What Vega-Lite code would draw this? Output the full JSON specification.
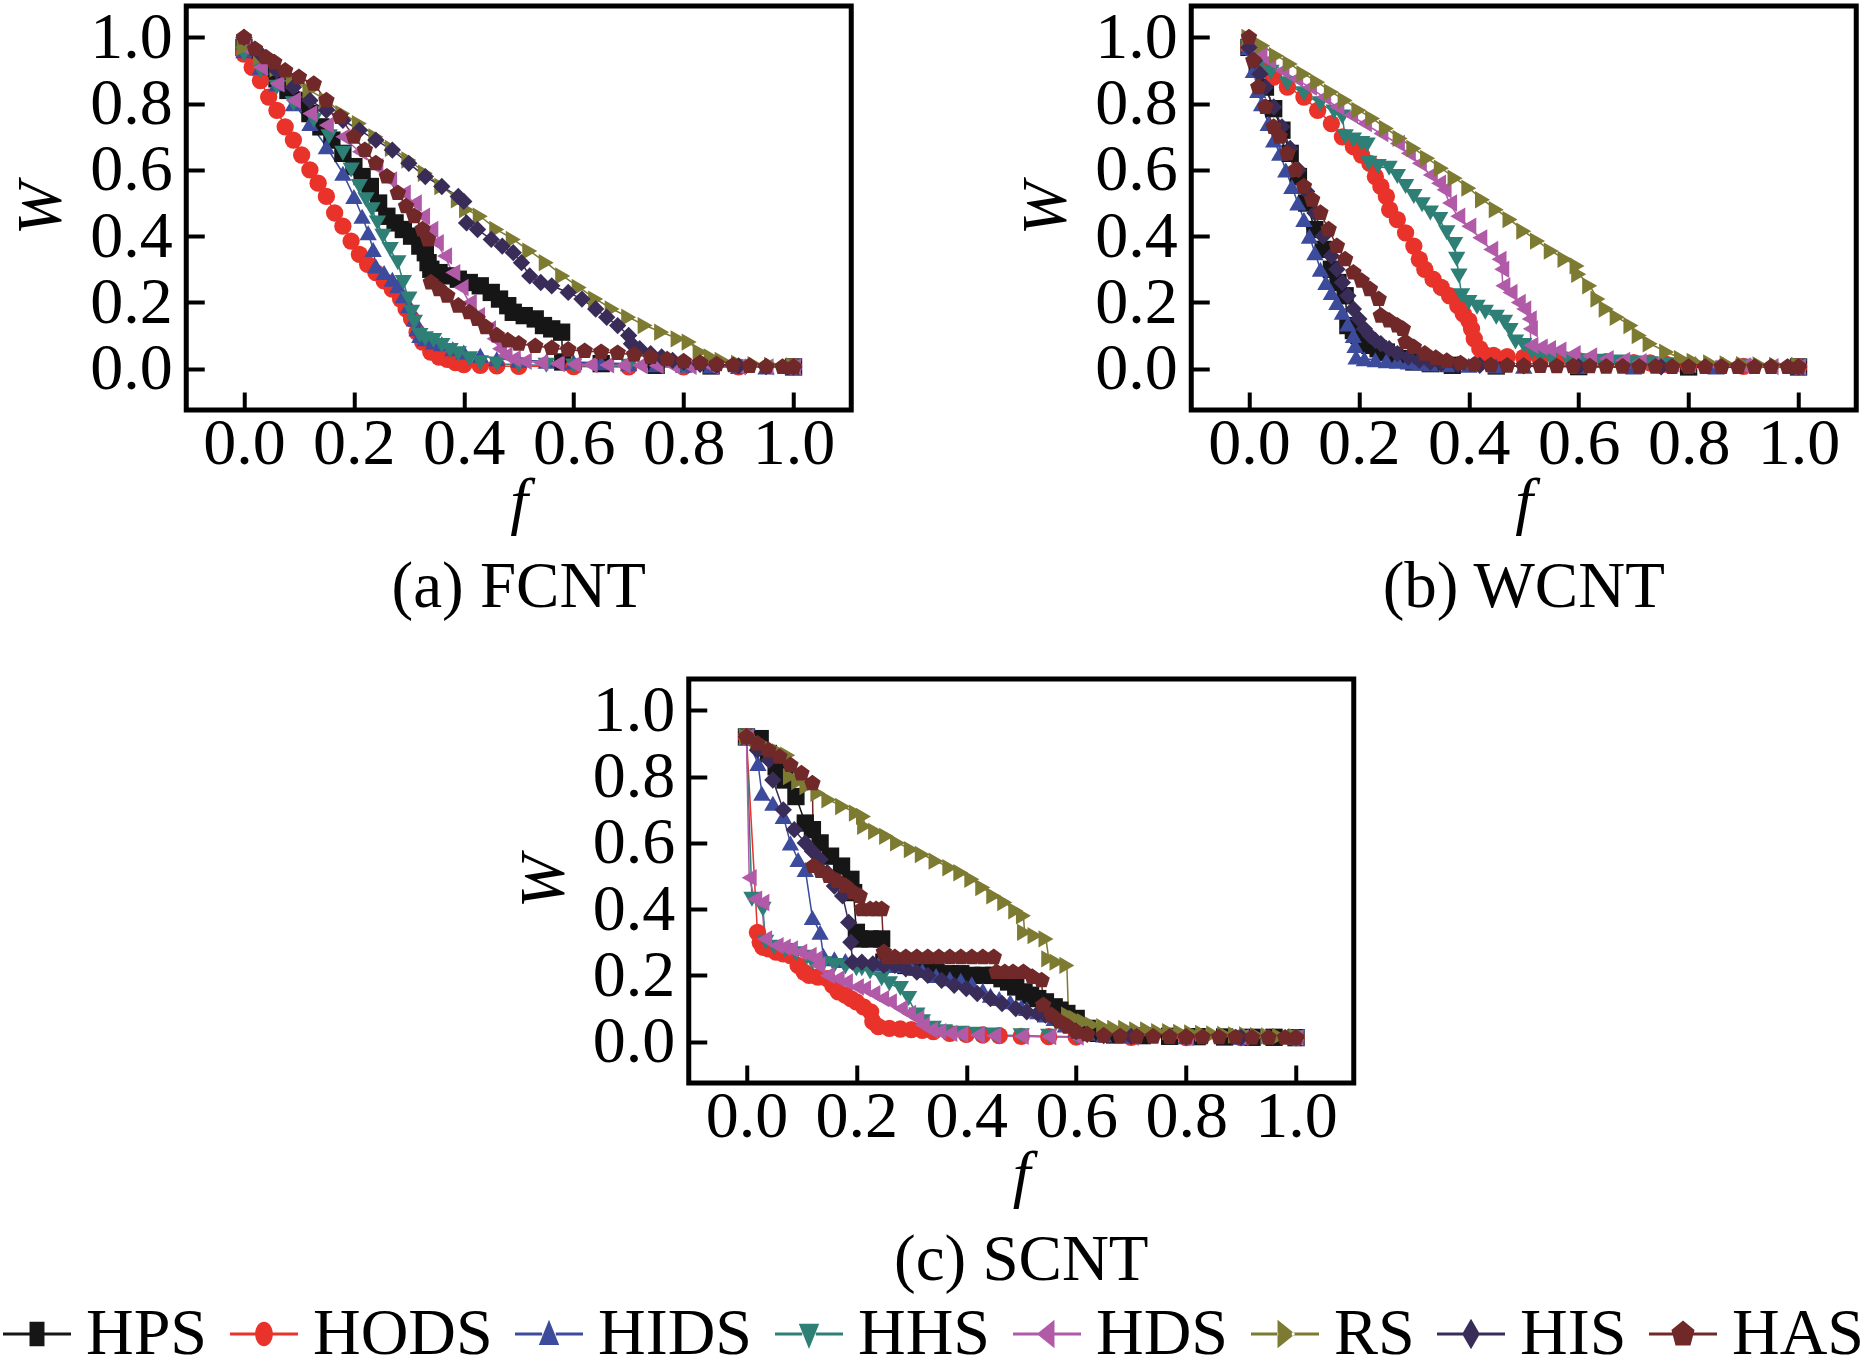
{
  "$schema": "https://vega.github.io/schema/vega-lite/v6.json",
  "description": "W versus f for eight strategies on FCNT, WCNT and SCNT networks.",
  "padding": {"left": 3, "top": 1, "right": 10, "bottom": 0},
  "background": "white",
  "config": {
    "font": "Liberation Serif",
    "view": {"stroke": "black", "strokeWidth": 5},
    "axis": {
      "domain": false,
      "grid": false,
      "ticks": true,
      "tickSize": -18,
      "tickWidth": 4,
      "tickColor": "black",
      "labelFont": "Liberation Serif",
      "labelFontSize": 66,
      "labelColor": "black",
      "labelFlush": false,
      "titleFont": "Liberation Serif",
      "titleFontSize": 64,
      "titleFontStyle": "italic",
      "titleFontWeight": "normal",
      "titleColor": "black"
    },
    "axisX": {"labelPadding": 19, "titlePadding": -6},
    "axisY": {"labelPadding": 32, "titlePadding": 16},
    "title": {
      "font": "Liberation Serif",
      "fontSize": 65,
      "fontWeight": "normal",
      "color": "black",
      "orient": "bottom",
      "anchor": "middle",
      "offset": 22
    },
    "legend": {
      "orient": "none",
      "legendX": -183,
      "legendY": 1294,
      "direction": "horizontal",
      "columns": 8,
      "symbolSize": 4624,
      "symbolStrokeWidth": 0,
      "labelFont": "Liberation Serif",
      "labelFontSize": 66,
      "labelColor": "black",
      "labelOffset": 15,
      "columnPadding": 22,
      "labelLimit": 0
    }
  },
  "datasets": {
    "a": [
      {"s":"HPS","f":0,"w":0.97},{"s":"HPS","f":0.02,"w":0.94},{"s":"HPS","f":0.04,"w":0.905},{"s":"HPS","f":0.06,"w":0.875},{"s":"HPS","f":0.08,"w":0.84},{"s":"HPS","f":0.1,"w":0.81},{"s":"HPS","f":0.12,"w":0.77},{"s":"HPS","f":0.14,"w":0.73},{"s":"HPS","f":0.16,"w":0.69},{"s":"HPS","f":0.18,"w":0.65},{"s":"HPS","f":0.2,"w":0.61},{"s":"HPS","f":0.215,"w":0.58},{"s":"HPS","f":0.23,"w":0.55},{"s":"HPS","f":0.245,"w":0.5},{"s":"HPS","f":0.26,"w":0.46},{"s":"HPS","f":0.275,"w":0.44},{"s":"HPS","f":0.29,"w":0.42},{"s":"HPS","f":0.305,"w":0.4},{"s":"HPS","f":0.32,"w":0.37},{"s":"HPS","f":0.33,"w":0.35},{"s":"HPS","f":0.335,"w":0.32},{"s":"HPS","f":0.34,"w":0.3},{"s":"HPS","f":0.355,"w":0.29},{"s":"HPS","f":0.37,"w":0.28},{"s":"HPS","f":0.39,"w":0.27},{"s":"HPS","f":0.41,"w":0.26},{"s":"HPS","f":0.43,"w":0.25},{"s":"HPS","f":0.45,"w":0.23},{"s":"HPS","f":0.465,"w":0.21},{"s":"HPS","f":0.48,"w":0.19},{"s":"HPS","f":0.49,"w":0.17},{"s":"HPS","f":0.51,"w":0.16},{"s":"HPS","f":0.53,"w":0.15},{"s":"HPS","f":0.545,"w":0.13},{"s":"HPS","f":0.56,"w":0.12},{"s":"HPS","f":0.578,"w":0.11},{"s":"HPS","f":0.58,"w":0.02},{"s":"HPS","f":0.65,"w":0.015},{"s":"HPS","f":0.75,"w":0.01},{"s":"HPS","f":0.85,"w":0.008},{"s":"HPS","f":1,"w":0.005},
      {"s":"HODS","f":0,"w":0.95},{"s":"HODS","f":0.015,"w":0.91},{"s":"HODS","f":0.03,"w":0.87},{"s":"HODS","f":0.045,"w":0.82},{"s":"HODS","f":0.06,"w":0.78},{"s":"HODS","f":0.075,"w":0.73},{"s":"HODS","f":0.09,"w":0.69},{"s":"HODS","f":0.105,"w":0.645},{"s":"HODS","f":0.12,"w":0.6},{"s":"HODS","f":0.135,"w":0.56},{"s":"HODS","f":0.15,"w":0.52},{"s":"HODS","f":0.165,"w":0.47},{"s":"HODS","f":0.18,"w":0.43},{"s":"HODS","f":0.195,"w":0.385},{"s":"HODS","f":0.21,"w":0.345},{"s":"HODS","f":0.225,"w":0.315},{"s":"HODS","f":0.24,"w":0.29},{"s":"HODS","f":0.255,"w":0.265},{"s":"HODS","f":0.27,"w":0.24},{"s":"HODS","f":0.285,"w":0.21},{"s":"HODS","f":0.295,"w":0.18},{"s":"HODS","f":0.305,"w":0.15},{"s":"HODS","f":0.315,"w":0.11},{"s":"HODS","f":0.325,"w":0.08},{"s":"HODS","f":0.34,"w":0.05},{"s":"HODS","f":0.355,"w":0.035},{"s":"HODS","f":0.37,"w":0.028},{"s":"HODS","f":0.385,"w":0.018},{"s":"HODS","f":0.4,"w":0.012},{"s":"HODS","f":0.43,"w":0.01},{"s":"HODS","f":0.46,"w":0.008},{"s":"HODS","f":0.5,"w":0.007},{"s":"HODS","f":0.6,"w":0.006},{"s":"HODS","f":0.7,"w":0.005},{"s":"HODS","f":0.8,"w":0.005},{"s":"HODS","f":0.9,"w":0.005},{"s":"HODS","f":1,"w":0.005},
      {"s":"HIDS","f":0,"w":0.96},{"s":"HIDS","f":0.03,"w":0.91},{"s":"HIDS","f":0.06,"w":0.86},{"s":"HIDS","f":0.09,"w":0.8},{"s":"HIDS","f":0.12,"w":0.74},{"s":"HIDS","f":0.15,"w":0.67},{"s":"HIDS","f":0.18,"w":0.59},{"s":"HIDS","f":0.2,"w":0.52},{"s":"HIDS","f":0.215,"w":0.46},{"s":"HIDS","f":0.226,"w":0.41},{"s":"HIDS","f":0.235,"w":0.36},{"s":"HIDS","f":0.24,"w":0.31},{"s":"HIDS","f":0.255,"w":0.29},{"s":"HIDS","f":0.27,"w":0.27},{"s":"HIDS","f":0.28,"w":0.25},{"s":"HIDS","f":0.29,"w":0.22},{"s":"HIDS","f":0.3,"w":0.19},{"s":"HIDS","f":0.31,"w":0.15},{"s":"HIDS","f":0.315,"w":0.12},{"s":"HIDS","f":0.32,"w":0.1},{"s":"HIDS","f":0.33,"w":0.09},{"s":"HIDS","f":0.345,"w":0.08},{"s":"HIDS","f":0.36,"w":0.075},{"s":"HIDS","f":0.38,"w":0.06},{"s":"HIDS","f":0.4,"w":0.05},{"s":"HIDS","f":0.43,"w":0.04},{"s":"HIDS","f":0.46,"w":0.03},{"s":"HIDS","f":0.5,"w":0.025},{"s":"HIDS","f":0.55,"w":0.022},{"s":"HIDS","f":0.6,"w":0.02},{"s":"HIDS","f":0.65,"w":0.018},{"s":"HIDS","f":0.7,"w":0.015},{"s":"HIDS","f":0.75,"w":0.012},{"s":"HIDS","f":0.8,"w":0.01},{"s":"HIDS","f":0.85,"w":0.008},{"s":"HIDS","f":0.9,"w":0.006},{"s":"HIDS","f":0.95,"w":0.005},{"s":"HIDS","f":1,"w":0.005},
      {"s":"HHS","f":0,"w":0.95},{"s":"HHS","f":0.03,"w":0.9},{"s":"HHS","f":0.06,"w":0.85},{"s":"HHS","f":0.09,"w":0.8},{"s":"HHS","f":0.127,"w":0.75},{"s":"HHS","f":0.155,"w":0.7},{"s":"HHS","f":0.18,"w":0.65},{"s":"HHS","f":0.195,"w":0.6},{"s":"HHS","f":0.21,"w":0.55},{"s":"HHS","f":0.222,"w":0.51},{"s":"HHS","f":0.233,"w":0.48},{"s":"HHS","f":0.243,"w":0.44},{"s":"HHS","f":0.253,"w":0.4},{"s":"HHS","f":0.266,"w":0.36},{"s":"HHS","f":0.28,"w":0.32},{"s":"HHS","f":0.29,"w":0.26},{"s":"HHS","f":0.3,"w":0.21},{"s":"HHS","f":0.305,"w":0.17},{"s":"HHS","f":0.31,"w":0.14},{"s":"HHS","f":0.32,"w":0.1},{"s":"HHS","f":0.33,"w":0.09},{"s":"HHS","f":0.345,"w":0.085},{"s":"HHS","f":0.36,"w":0.07},{"s":"HHS","f":0.375,"w":0.055},{"s":"HHS","f":0.39,"w":0.045},{"s":"HHS","f":0.41,"w":0.03},{"s":"HHS","f":0.43,"w":0.018},{"s":"HHS","f":0.46,"w":0.014},{"s":"HHS","f":0.5,"w":0.012},{"s":"HHS","f":0.55,"w":0.01},{"s":"HHS","f":0.6,"w":0.008},{"s":"HHS","f":0.7,"w":0.007},{"s":"HHS","f":0.8,"w":0.006},{"s":"HHS","f":0.9,"w":0.005},{"s":"HHS","f":1,"w":0.005},
      {"s":"HDS","f":0,"w":0.97},{"s":"HDS","f":0.03,"w":0.91},{"s":"HDS","f":0.06,"w":0.86},{"s":"HDS","f":0.09,"w":0.81},{"s":"HDS","f":0.12,"w":0.77},{"s":"HDS","f":0.15,"w":0.735},{"s":"HDS","f":0.18,"w":0.7},{"s":"HDS","f":0.21,"w":0.655},{"s":"HDS","f":0.24,"w":0.61},{"s":"HDS","f":0.265,"w":0.57},{"s":"HDS","f":0.29,"w":0.53},{"s":"HDS","f":0.31,"w":0.5},{"s":"HDS","f":0.325,"w":0.46},{"s":"HDS","f":0.34,"w":0.42},{"s":"HDS","f":0.35,"w":0.38},{"s":"HDS","f":0.365,"w":0.34},{"s":"HDS","f":0.38,"w":0.29},{"s":"HDS","f":0.395,"w":0.245},{"s":"HDS","f":0.41,"w":0.2},{"s":"HDS","f":0.425,"w":0.16},{"s":"HDS","f":0.445,"w":0.12},{"s":"HDS","f":0.455,"w":0.09},{"s":"HDS","f":0.465,"w":0.06},{"s":"HDS","f":0.475,"w":0.04},{"s":"HDS","f":0.49,"w":0.03},{"s":"HDS","f":0.51,"w":0.022},{"s":"HDS","f":0.54,"w":0.018},{"s":"HDS","f":0.57,"w":0.015},{"s":"HDS","f":0.6,"w":0.013},{"s":"HDS","f":0.63,"w":0.012},{"s":"HDS","f":0.66,"w":0.011},{"s":"HDS","f":0.69,"w":0.01},{"s":"HDS","f":0.72,"w":0.01},{"s":"HDS","f":0.75,"w":0.009},{"s":"HDS","f":0.78,"w":0.008},{"s":"HDS","f":0.81,"w":0.007},{"s":"HDS","f":0.85,"w":0.006},{"s":"HDS","f":0.9,"w":0.005},{"s":"HDS","f":0.95,"w":0.005},{"s":"HDS","f":1,"w":0.005},
      {"s":"RS","f":0,"w":0.97},{"s":"RS","f":0.03,"w":0.94},{"s":"RS","f":0.06,"w":0.905},{"s":"RS","f":0.09,"w":0.87},{"s":"RS","f":0.12,"w":0.84},{"s":"RS","f":0.15,"w":0.81},{"s":"RS","f":0.18,"w":0.77},{"s":"RS","f":0.21,"w":0.74},{"s":"RS","f":0.24,"w":0.7},{"s":"RS","f":0.27,"w":0.665},{"s":"RS","f":0.3,"w":0.63},{"s":"RS","f":0.33,"w":0.59},{"s":"RS","f":0.36,"w":0.55},{"s":"RS","f":0.39,"w":0.51},{"s":"RS","f":0.405,"w":0.48},{"s":"RS","f":0.43,"w":0.46},{"s":"RS","f":0.46,"w":0.42},{"s":"RS","f":0.49,"w":0.39},{"s":"RS","f":0.52,"w":0.355},{"s":"RS","f":0.55,"w":0.32},{"s":"RS","f":0.58,"w":0.28},{"s":"RS","f":0.61,"w":0.245},{"s":"RS","f":0.64,"w":0.21},{"s":"RS","f":0.67,"w":0.18},{"s":"RS","f":0.7,"w":0.155},{"s":"RS","f":0.73,"w":0.13},{"s":"RS","f":0.76,"w":0.11},{"s":"RS","f":0.79,"w":0.09},{"s":"RS","f":0.81,"w":0.08},{"s":"RS","f":0.83,"w":0.05},{"s":"RS","f":0.85,"w":0.035},{"s":"RS","f":0.87,"w":0.025},{"s":"RS","f":0.9,"w":0.016},{"s":"RS","f":0.93,"w":0.012},{"s":"RS","f":0.96,"w":0.01},{"s":"RS","f":1,"w":0.008},
      {"s":"HIS","f":0,"w":1},{"s":"HIS","f":0.03,"w":0.95},{"s":"HIS","f":0.06,"w":0.9},{"s":"HIS","f":0.09,"w":0.85},{"s":"HIS","f":0.12,"w":0.81},{"s":"HIS","f":0.15,"w":0.78},{"s":"HIS","f":0.18,"w":0.75},{"s":"HIS","f":0.21,"w":0.72},{"s":"HIS","f":0.24,"w":0.69},{"s":"HIS","f":0.27,"w":0.66},{"s":"HIS","f":0.3,"w":0.62},{"s":"HIS","f":0.33,"w":0.58},{"s":"HIS","f":0.36,"w":0.55},{"s":"HIS","f":0.39,"w":0.52},{"s":"HIS","f":0.4,"w":0.505},{"s":"HIS","f":0.405,"w":0.44},{"s":"HIS","f":0.425,"w":0.42},{"s":"HIS","f":0.45,"w":0.39},{"s":"HIS","f":0.47,"w":0.37},{"s":"HIS","f":0.49,"w":0.35},{"s":"HIS","f":0.505,"w":0.32},{"s":"HIS","f":0.52,"w":0.28},{"s":"HIS","f":0.54,"w":0.26},{"s":"HIS","f":0.56,"w":0.25},{"s":"HIS","f":0.59,"w":0.23},{"s":"HIS","f":0.615,"w":0.21},{"s":"HIS","f":0.64,"w":0.18},{"s":"HIS","f":0.66,"w":0.155},{"s":"HIS","f":0.68,"w":0.13},{"s":"HIS","f":0.7,"w":0.1},{"s":"HIS","f":0.705,"w":0.075},{"s":"HIS","f":0.72,"w":0.06},{"s":"HIS","f":0.74,"w":0.045},{"s":"HIS","f":0.76,"w":0.035},{"s":"HIS","f":0.78,"w":0.025},{"s":"HIS","f":0.8,"w":0.018},{"s":"HIS","f":0.83,"w":0.013},{"s":"HIS","f":0.86,"w":0.01},{"s":"HIS","f":0.9,"w":0.008},{"s":"HIS","f":0.95,"w":0.006},{"s":"HIS","f":1,"w":0.005},
      {"s":"HAS","f":0,"w":1},{"s":"HAS","f":0.02,"w":0.965},{"s":"HAS","f":0.04,"w":0.94},{"s":"HAS","f":0.055,"w":0.925},{"s":"HAS","f":0.075,"w":0.9},{"s":"HAS","f":0.1,"w":0.88},{"s":"HAS","f":0.127,"w":0.86},{"s":"HAS","f":0.15,"w":0.81},{"s":"HAS","f":0.175,"w":0.76},{"s":"HAS","f":0.2,"w":0.7},{"s":"HAS","f":0.22,"w":0.66},{"s":"HAS","f":0.24,"w":0.62},{"s":"HAS","f":0.26,"w":0.58},{"s":"HAS","f":0.28,"w":0.53},{"s":"HAS","f":0.295,"w":0.49},{"s":"HAS","f":0.31,"w":0.46},{"s":"HAS","f":0.325,"w":0.42},{"s":"HAS","f":0.335,"w":0.39},{"s":"HAS","f":0.34,"w":0.26},{"s":"HAS","f":0.355,"w":0.24},{"s":"HAS","f":0.37,"w":0.22},{"s":"HAS","f":0.39,"w":0.19},{"s":"HAS","f":0.41,"w":0.17},{"s":"HAS","f":0.425,"w":0.15},{"s":"HAS","f":0.44,"w":0.125},{"s":"HAS","f":0.46,"w":0.1},{"s":"HAS","f":0.48,"w":0.085},{"s":"HAS","f":0.5,"w":0.075},{"s":"HAS","f":0.53,"w":0.068},{"s":"HAS","f":0.56,"w":0.062},{"s":"HAS","f":0.59,"w":0.057},{"s":"HAS","f":0.62,"w":0.053},{"s":"HAS","f":0.65,"w":0.05},{"s":"HAS","f":0.68,"w":0.047},{"s":"HAS","f":0.71,"w":0.042},{"s":"HAS","f":0.74,"w":0.035},{"s":"HAS","f":0.77,"w":0.028},{"s":"HAS","f":0.8,"w":0.022},{"s":"HAS","f":0.83,"w":0.017},{"s":"HAS","f":0.86,"w":0.013},{"s":"HAS","f":0.89,"w":0.01},{"s":"HAS","f":0.92,"w":0.008},{"s":"HAS","f":0.95,"w":0.006},{"s":"HAS","f":0.98,"w":0.005},{"s":"HAS","f":1,"w":0.005}
    ],
    "b": [
      {"s":"HPS","f":0,"w":0.97},{"s":"HPS","f":0.015,"w":0.91},{"s":"HPS","f":0.03,"w":0.85},{"s":"HPS","f":0.045,"w":0.785},{"s":"HPS","f":0.06,"w":0.72},{"s":"HPS","f":0.075,"w":0.65},{"s":"HPS","f":0.09,"w":0.58},{"s":"HPS","f":0.105,"w":0.5},{"s":"HPS","f":0.12,"w":0.42},{"s":"HPS","f":0.135,"w":0.36},{"s":"HPS","f":0.15,"w":0.3},{"s":"HPS","f":0.162,"w":0.26},{"s":"HPS","f":0.175,"w":0.22},{"s":"HPS","f":0.18,"w":0.13},{"s":"HPS","f":0.19,"w":0.115},{"s":"HPS","f":0.2,"w":0.1},{"s":"HPS","f":0.21,"w":0.085},{"s":"HPS","f":0.22,"w":0.07},{"s":"HPS","f":0.235,"w":0.06},{"s":"HPS","f":0.25,"w":0.05},{"s":"HPS","f":0.265,"w":0.04},{"s":"HPS","f":0.28,"w":0.03},{"s":"HPS","f":0.3,"w":0.02},{"s":"HPS","f":0.33,"w":0.015},{"s":"HPS","f":0.37,"w":0.01},{"s":"HPS","f":0.45,"w":0.008},{"s":"HPS","f":0.6,"w":0.006},{"s":"HPS","f":0.8,"w":0.005},{"s":"HPS","f":1,"w":0.005},
      {"s":"HODS","f":0,"w":0.97},{"s":"HODS","f":0.012,"w":0.93},{"s":"HODS","f":0.023,"w":0.91},{"s":"HODS","f":0.045,"w":0.88},{"s":"HODS","f":0.07,"w":0.85},{"s":"HODS","f":0.1,"w":0.82},{"s":"HODS","f":0.125,"w":0.78},{"s":"HODS","f":0.15,"w":0.74},{"s":"HODS","f":0.17,"w":0.7},{"s":"HODS","f":0.19,"w":0.67},{"s":"HODS","f":0.205,"w":0.645},{"s":"HODS","f":0.22,"w":0.62},{"s":"HODS","f":0.23,"w":0.58},{"s":"HODS","f":0.24,"w":0.55},{"s":"HODS","f":0.25,"w":0.52},{"s":"HODS","f":0.256,"w":0.48},{"s":"HODS","f":0.27,"w":0.45},{"s":"HODS","f":0.285,"w":0.41},{"s":"HODS","f":0.3,"w":0.37},{"s":"HODS","f":0.31,"w":0.33},{"s":"HODS","f":0.32,"w":0.3},{"s":"HODS","f":0.335,"w":0.27},{"s":"HODS","f":0.35,"w":0.245},{"s":"HODS","f":0.365,"w":0.22},{"s":"HODS","f":0.38,"w":0.19},{"s":"HODS","f":0.39,"w":0.165},{"s":"HODS","f":0.4,"w":0.145},{"s":"HODS","f":0.405,"w":0.12},{"s":"HODS","f":0.41,"w":0.09},{"s":"HODS","f":0.42,"w":0.06},{"s":"HODS","f":0.426,"w":0.045},{"s":"HODS","f":0.445,"w":0.04},{"s":"HODS","f":0.47,"w":0.036},{"s":"HODS","f":0.5,"w":0.034},{"s":"HODS","f":0.53,"w":0.03},{"s":"HODS","f":0.56,"w":0.027},{"s":"HODS","f":0.6,"w":0.024},{"s":"HODS","f":0.65,"w":0.021},{"s":"HODS","f":0.7,"w":0.018},{"s":"HODS","f":0.73,"w":0.017},{"s":"HODS","f":0.76,"w":0.013},{"s":"HODS","f":0.8,"w":0.01},{"s":"HODS","f":0.9,"w":0.007},{"s":"HODS","f":1,"w":0.005},
      {"s":"HIDS","f":0,"w":0.97},{"s":"HIDS","f":0.008,"w":0.9},{"s":"HIDS","f":0.016,"w":0.84},{"s":"HIDS","f":0.023,"w":0.8},{"s":"HIDS","f":0.035,"w":0.74},{"s":"HIDS","f":0.045,"w":0.69},{"s":"HIDS","f":0.056,"w":0.65},{"s":"HIDS","f":0.067,"w":0.6},{"s":"HIDS","f":0.078,"w":0.55},{"s":"HIDS","f":0.089,"w":0.5},{"s":"HIDS","f":0.1,"w":0.45},{"s":"HIDS","f":0.11,"w":0.4},{"s":"HIDS","f":0.12,"w":0.35},{"s":"HIDS","f":0.13,"w":0.3},{"s":"HIDS","f":0.14,"w":0.26},{"s":"HIDS","f":0.15,"w":0.23},{"s":"HIDS","f":0.16,"w":0.2},{"s":"HIDS","f":0.17,"w":0.17},{"s":"HIDS","f":0.18,"w":0.135},{"s":"HIDS","f":0.19,"w":0.1},{"s":"HIDS","f":0.193,"w":0.07},{"s":"HIDS","f":0.195,"w":0.035},{"s":"HIDS","f":0.21,"w":0.03},{"s":"HIDS","f":0.23,"w":0.027},{"s":"HIDS","f":0.25,"w":0.024},{"s":"HIDS","f":0.27,"w":0.022},{"s":"HIDS","f":0.29,"w":0.02},{"s":"HIDS","f":0.31,"w":0.017},{"s":"HIDS","f":0.33,"w":0.014},{"s":"HIDS","f":0.36,"w":0.012},{"s":"HIDS","f":0.4,"w":0.01},{"s":"HIDS","f":0.45,"w":0.008},{"s":"HIDS","f":0.5,"w":0.007},{"s":"HIDS","f":0.6,"w":0.006},{"s":"HIDS","f":0.7,"w":0.005},{"s":"HIDS","f":0.85,"w":0.005},{"s":"HIDS","f":1,"w":0.005},
      {"s":"HHS","f":0,"w":0.97},{"s":"HHS","f":0.01,"w":0.94},{"s":"HHS","f":0.02,"w":0.92},{"s":"HHS","f":0.04,"w":0.895},{"s":"HHS","f":0.07,"w":0.86},{"s":"HHS","f":0.1,"w":0.83},{"s":"HHS","f":0.13,"w":0.8},{"s":"HHS","f":0.155,"w":0.775},{"s":"HHS","f":0.17,"w":0.76},{"s":"HHS","f":0.175,"w":0.7},{"s":"HHS","f":0.19,"w":0.69},{"s":"HHS","f":0.205,"w":0.68},{"s":"HHS","f":0.215,"w":0.675},{"s":"HHS","f":0.218,"w":0.62},{"s":"HHS","f":0.235,"w":0.61},{"s":"HHS","f":0.255,"w":0.605},{"s":"HHS","f":0.27,"w":0.58},{"s":"HHS","f":0.285,"w":0.55},{"s":"HHS","f":0.3,"w":0.52},{"s":"HHS","f":0.315,"w":0.495},{"s":"HHS","f":0.33,"w":0.47},{"s":"HHS","f":0.347,"w":0.45},{"s":"HHS","f":0.36,"w":0.41},{"s":"HHS","f":0.374,"w":0.375},{"s":"HHS","f":0.378,"w":0.33},{"s":"HHS","f":0.382,"w":0.28},{"s":"HHS","f":0.387,"w":0.22},{"s":"HHS","f":0.4,"w":0.2},{"s":"HHS","f":0.415,"w":0.185},{"s":"HHS","f":0.43,"w":0.17},{"s":"HHS","f":0.45,"w":0.155},{"s":"HHS","f":0.465,"w":0.14},{"s":"HHS","f":0.475,"w":0.115},{"s":"HHS","f":0.485,"w":0.08},{"s":"HHS","f":0.5,"w":0.07},{"s":"HHS","f":0.515,"w":0.05},{"s":"HHS","f":0.53,"w":0.035},{"s":"HHS","f":0.55,"w":0.03},{"s":"HHS","f":0.58,"w":0.027},{"s":"HHS","f":0.61,"w":0.024},{"s":"HHS","f":0.64,"w":0.022},{"s":"HHS","f":0.67,"w":0.02},{"s":"HHS","f":0.7,"w":0.017},{"s":"HHS","f":0.73,"w":0.015},{"s":"HHS","f":0.76,"w":0.012},{"s":"HHS","f":0.8,"w":0.01},{"s":"HHS","f":0.9,"w":0.007},{"s":"HHS","f":1,"w":0.005},
      {"s":"HDS","f":0,"w":0.97},{"s":"HDS","f":0.02,"w":0.95},{"s":"HDS","f":0.036,"w":0.93},{"s":"HDS","f":0.06,"w":0.9},{"s":"HDS","f":0.085,"w":0.875},{"s":"HDS","f":0.11,"w":0.85},{"s":"HDS","f":0.136,"w":0.82},{"s":"HDS","f":0.16,"w":0.79},{"s":"HDS","f":0.185,"w":0.765},{"s":"HDS","f":0.21,"w":0.74},{"s":"HDS","f":0.24,"w":0.71},{"s":"HDS","f":0.27,"w":0.68},{"s":"HDS","f":0.29,"w":0.65},{"s":"HDS","f":0.31,"w":0.62},{"s":"HDS","f":0.33,"w":0.585},{"s":"HDS","f":0.345,"w":0.56},{"s":"HDS","f":0.355,"w":0.54},{"s":"HDS","f":0.365,"w":0.5},{"s":"HDS","f":0.38,"w":0.46},{"s":"HDS","f":0.4,"w":0.43},{"s":"HDS","f":0.42,"w":0.395},{"s":"HDS","f":0.44,"w":0.36},{"s":"HDS","f":0.455,"w":0.33},{"s":"HDS","f":0.46,"w":0.3},{"s":"HDS","f":0.462,"w":0.25},{"s":"HDS","f":0.475,"w":0.23},{"s":"HDS","f":0.49,"w":0.2},{"s":"HDS","f":0.5,"w":0.18},{"s":"HDS","f":0.51,"w":0.15},{"s":"HDS","f":0.512,"w":0.12},{"s":"HDS","f":0.513,"w":0.07},{"s":"HDS","f":0.53,"w":0.065},{"s":"HDS","f":0.545,"w":0.06},{"s":"HDS","f":0.564,"w":0.056},{"s":"HDS","f":0.59,"w":0.045},{"s":"HDS","f":0.62,"w":0.038},{"s":"HDS","f":0.65,"w":0.03},{"s":"HDS","f":0.68,"w":0.025},{"s":"HDS","f":0.71,"w":0.021},{"s":"HDS","f":0.74,"w":0.017},{"s":"HDS","f":0.77,"w":0.014},{"s":"HDS","f":0.8,"w":0.012},{"s":"HDS","f":0.85,"w":0.01},{"s":"HDS","f":0.9,"w":0.008},{"s":"HDS","f":0.95,"w":0.006},{"s":"HDS","f":1,"w":0.005},
      {"s":"RS","f":0,"w":1},{"s":"RS","f":0.025,"w":0.975},{"s":"RS","f":0.05,"w":0.945},{"s":"RS","f":0.075,"w":0.92},{"s":"RS","f":0.1,"w":0.89},{"s":"RS","f":0.125,"w":0.865},{"s":"RS","f":0.15,"w":0.835},{"s":"RS","f":0.175,"w":0.81},{"s":"RS","f":0.2,"w":0.78},{"s":"RS","f":0.225,"w":0.755},{"s":"RS","f":0.25,"w":0.725},{"s":"RS","f":0.275,"w":0.695},{"s":"RS","f":0.3,"w":0.665},{"s":"RS","f":0.325,"w":0.635},{"s":"RS","f":0.35,"w":0.605},{"s":"RS","f":0.375,"w":0.575},{"s":"RS","f":0.4,"w":0.545},{"s":"RS","f":0.425,"w":0.51},{"s":"RS","f":0.45,"w":0.48},{"s":"RS","f":0.475,"w":0.45},{"s":"RS","f":0.5,"w":0.415},{"s":"RS","f":0.525,"w":0.385},{"s":"RS","f":0.55,"w":0.355},{"s":"RS","f":0.575,"w":0.33},{"s":"RS","f":0.597,"w":0.31},{"s":"RS","f":0.6,"w":0.285},{"s":"RS","f":0.62,"w":0.25},{"s":"RS","f":0.635,"w":0.21},{"s":"RS","f":0.65,"w":0.18},{"s":"RS","f":0.67,"w":0.155},{"s":"RS","f":0.695,"w":0.13},{"s":"RS","f":0.71,"w":0.1},{"s":"RS","f":0.73,"w":0.075},{"s":"RS","f":0.76,"w":0.05},{"s":"RS","f":0.787,"w":0.03},{"s":"RS","f":0.81,"w":0.022},{"s":"RS","f":0.84,"w":0.017},{"s":"RS","f":0.87,"w":0.014},{"s":"RS","f":0.9,"w":0.012},{"s":"RS","f":0.93,"w":0.011},{"s":"RS","f":0.96,"w":0.01},{"s":"RS","f":1,"w":0.01},
      {"s":"HIS","f":0,"w":0.97},{"s":"HIS","f":0.01,"w":0.93},{"s":"HIS","f":0.02,"w":0.89},{"s":"HIS","f":0.03,"w":0.85},{"s":"HIS","f":0.045,"w":0.79},{"s":"HIS","f":0.06,"w":0.73},{"s":"HIS","f":0.075,"w":0.665},{"s":"HIS","f":0.09,"w":0.6},{"s":"HIS","f":0.105,"w":0.535},{"s":"HIS","f":0.12,"w":0.47},{"s":"HIS","f":0.135,"w":0.4},{"s":"HIS","f":0.15,"w":0.34},{"s":"HIS","f":0.16,"w":0.3},{"s":"HIS","f":0.17,"w":0.26},{"s":"HIS","f":0.18,"w":0.22},{"s":"HIS","f":0.19,"w":0.18},{"s":"HIS","f":0.2,"w":0.15},{"s":"HIS","f":0.21,"w":0.12},{"s":"HIS","f":0.22,"w":0.1},{"s":"HIS","f":0.23,"w":0.085},{"s":"HIS","f":0.24,"w":0.075},{"s":"HIS","f":0.255,"w":0.06},{"s":"HIS","f":0.27,"w":0.045},{"s":"HIS","f":0.29,"w":0.034},{"s":"HIS","f":0.31,"w":0.025},{"s":"HIS","f":0.33,"w":0.02},{"s":"HIS","f":0.35,"w":0.015},{"s":"HIS","f":0.38,"w":0.012},{"s":"HIS","f":0.42,"w":0.01},{"s":"HIS","f":0.5,"w":0.008},{"s":"HIS","f":0.6,"w":0.006},{"s":"HIS","f":0.75,"w":0.005},{"s":"HIS","f":1,"w":0.005},
      {"s":"HAS","f":0,"w":1},{"s":"HAS","f":0.008,"w":0.93},{"s":"HAS","f":0.017,"w":0.85},{"s":"HAS","f":0.03,"w":0.79},{"s":"HAS","f":0.045,"w":0.73},{"s":"HAS","f":0.056,"w":0.7},{"s":"HAS","f":0.07,"w":0.65},{"s":"HAS","f":0.085,"w":0.6},{"s":"HAS","f":0.1,"w":0.55},{"s":"HAS","f":0.115,"w":0.51},{"s":"HAS","f":0.13,"w":0.47},{"s":"HAS","f":0.145,"w":0.42},{"s":"HAS","f":0.16,"w":0.37},{"s":"HAS","f":0.175,"w":0.33},{"s":"HAS","f":0.19,"w":0.29},{"s":"HAS","f":0.205,"w":0.265},{"s":"HAS","f":0.22,"w":0.24},{"s":"HAS","f":0.236,"w":0.21},{"s":"HAS","f":0.24,"w":0.16},{"s":"HAS","f":0.255,"w":0.145},{"s":"HAS","f":0.27,"w":0.13},{"s":"HAS","f":0.28,"w":0.12},{"s":"HAS","f":0.285,"w":0.08},{"s":"HAS","f":0.3,"w":0.065},{"s":"HAS","f":0.32,"w":0.045},{"s":"HAS","f":0.34,"w":0.032},{"s":"HAS","f":0.36,"w":0.023},{"s":"HAS","f":0.385,"w":0.016},{"s":"HAS","f":0.41,"w":0.012},{"s":"HAS","f":0.44,"w":0.01},{"s":"HAS","f":0.47,"w":0.009},{"s":"HAS","f":0.5,"w":0.008},{"s":"HAS","f":0.53,"w":0.008},{"s":"HAS","f":0.56,"w":0.007},{"s":"HAS","f":0.59,"w":0.007},{"s":"HAS","f":0.62,"w":0.007},{"s":"HAS","f":0.65,"w":0.006},{"s":"HAS","f":0.68,"w":0.006},{"s":"HAS","f":0.71,"w":0.006},{"s":"HAS","f":0.74,"w":0.006},{"s":"HAS","f":0.77,"w":0.005},{"s":"HAS","f":0.8,"w":0.005},{"s":"HAS","f":0.83,"w":0.005},{"s":"HAS","f":0.86,"w":0.005},{"s":"HAS","f":0.89,"w":0.005},{"s":"HAS","f":0.92,"w":0.005},{"s":"HAS","f":0.95,"w":0.005},{"s":"HAS","f":0.98,"w":0.005},{"s":"HAS","f":1,"w":0.005}
    ],
    "c": [
      {"s":"HPS","f":0,"w":0.92},{"s":"HPS","f":0.025,"w":0.915},{"s":"HPS","f":0.04,"w":0.87},{"s":"HPS","f":0.054,"w":0.83},{"s":"HPS","f":0.07,"w":0.79},{"s":"HPS","f":0.09,"w":0.74},{"s":"HPS","f":0.107,"w":0.66},{"s":"HPS","f":0.12,"w":0.64},{"s":"HPS","f":0.134,"w":0.6},{"s":"HPS","f":0.153,"w":0.56},{"s":"HPS","f":0.173,"w":0.53},{"s":"HPS","f":0.19,"w":0.49},{"s":"HPS","f":0.195,"w":0.45},{"s":"HPS","f":0.2,"w":0.33},{"s":"HPS","f":0.206,"w":0.31},{"s":"HPS","f":0.225,"w":0.31},{"s":"HPS","f":0.246,"w":0.31},{"s":"HPS","f":0.25,"w":0.24},{"s":"HPS","f":0.27,"w":0.235},{"s":"HPS","f":0.29,"w":0.23},{"s":"HPS","f":0.31,"w":0.225},{"s":"HPS","f":0.33,"w":0.22},{"s":"HPS","f":0.345,"w":0.21},{"s":"HPS","f":0.37,"w":0.205},{"s":"HPS","f":0.39,"w":0.205},{"s":"HPS","f":0.41,"w":0.2},{"s":"HPS","f":0.43,"w":0.2},{"s":"HPS","f":0.45,"w":0.2},{"s":"HPS","f":0.465,"w":0.19},{"s":"HPS","f":0.477,"w":0.18},{"s":"HPS","f":0.49,"w":0.165},{"s":"HPS","f":0.505,"w":0.15},{"s":"HPS","f":0.517,"w":0.14},{"s":"HPS","f":0.53,"w":0.13},{"s":"HPS","f":0.544,"w":0.12},{"s":"HPS","f":0.56,"w":0.105},{"s":"HPS","f":0.57,"w":0.095},{"s":"HPS","f":0.583,"w":0.085},{"s":"HPS","f":0.6,"w":0.07},{"s":"HPS","f":0.62,"w":0.04},{"s":"HPS","f":0.64,"w":0.025},{"s":"HPS","f":0.67,"w":0.02},{"s":"HPS","f":0.72,"w":0.018},{"s":"HPS","f":0.77,"w":0.016},{"s":"HPS","f":0.82,"w":0.015},{"s":"HPS","f":0.87,"w":0.014},{"s":"HPS","f":0.92,"w":0.013},{"s":"HPS","f":0.96,"w":0.013},{"s":"HPS","f":1,"w":0.012},
      {"s":"HODS","f":0,"w":0.92},{"s":"HODS","f":0.02,"w":0.33},{"s":"HODS","f":0.025,"w":0.3},{"s":"HODS","f":0.03,"w":0.285},{"s":"HODS","f":0.04,"w":0.28},{"s":"HODS","f":0.054,"w":0.27},{"s":"HODS","f":0.067,"w":0.265},{"s":"HODS","f":0.08,"w":0.26},{"s":"HODS","f":0.094,"w":0.23},{"s":"HODS","f":0.105,"w":0.21},{"s":"HODS","f":0.114,"w":0.2},{"s":"HODS","f":0.13,"w":0.195},{"s":"HODS","f":0.147,"w":0.19},{"s":"HODS","f":0.157,"w":0.17},{"s":"HODS","f":0.167,"w":0.15},{"s":"HODS","f":0.18,"w":0.14},{"s":"HODS","f":0.19,"w":0.13},{"s":"HODS","f":0.2,"w":0.12},{"s":"HODS","f":0.213,"w":0.105},{"s":"HODS","f":0.226,"w":0.09},{"s":"HODS","f":0.23,"w":0.06},{"s":"HODS","f":0.24,"w":0.045},{"s":"HODS","f":0.26,"w":0.04},{"s":"HODS","f":0.28,"w":0.038},{"s":"HODS","f":0.3,"w":0.036},{"s":"HODS","f":0.32,"w":0.034},{"s":"HODS","f":0.34,"w":0.03},{"s":"HODS","f":0.37,"w":0.025},{"s":"HODS","f":0.4,"w":0.022},{"s":"HODS","f":0.43,"w":0.02},{"s":"HODS","f":0.46,"w":0.018},{"s":"HODS","f":0.5,"w":0.016},{"s":"HODS","f":0.55,"w":0.015},{"s":"HODS","f":0.6,"w":0.014},{"s":"HODS","f":0.7,"w":0.013},{"s":"HODS","f":0.8,"w":0.012},{"s":"HODS","f":0.9,"w":0.012},{"s":"HODS","f":1,"w":0.012},
      {"s":"HIDS","f":0,"w":0.92},{"s":"HIDS","f":0.021,"w":0.84},{"s":"HIDS","f":0.028,"w":0.75},{"s":"HIDS","f":0.048,"w":0.72},{"s":"HIDS","f":0.067,"w":0.68},{"s":"HIDS","f":0.08,"w":0.6},{"s":"HIDS","f":0.094,"w":0.55},{"s":"HIDS","f":0.107,"w":0.52},{"s":"HIDS","f":0.12,"w":0.375},{"s":"HIDS","f":0.134,"w":0.33},{"s":"HIDS","f":0.14,"w":0.26},{"s":"HIDS","f":0.16,"w":0.25},{"s":"HIDS","f":0.18,"w":0.245},{"s":"HIDS","f":0.21,"w":0.24},{"s":"HIDS","f":0.24,"w":0.235},{"s":"HIDS","f":0.27,"w":0.23},{"s":"HIDS","f":0.3,"w":0.225},{"s":"HIDS","f":0.32,"w":0.215},{"s":"HIDS","f":0.345,"w":0.2},{"s":"HIDS","f":0.37,"w":0.19},{"s":"HIDS","f":0.39,"w":0.185},{"s":"HIDS","f":0.41,"w":0.175},{"s":"HIDS","f":0.43,"w":0.155},{"s":"HIDS","f":0.444,"w":0.14},{"s":"HIDS","f":0.46,"w":0.13},{"s":"HIDS","f":0.48,"w":0.12},{"s":"HIDS","f":0.5,"w":0.105},{"s":"HIDS","f":0.51,"w":0.1},{"s":"HIDS","f":0.53,"w":0.09},{"s":"HIDS","f":0.544,"w":0.08},{"s":"HIDS","f":0.56,"w":0.07},{"s":"HIDS","f":0.58,"w":0.05},{"s":"HIDS","f":0.6,"w":0.035},{"s":"HIDS","f":0.62,"w":0.025},{"s":"HIDS","f":0.65,"w":0.02},{"s":"HIDS","f":0.7,"w":0.017},{"s":"HIDS","f":0.8,"w":0.015},{"s":"HIDS","f":0.9,"w":0.013},{"s":"HIDS","f":1,"w":0.012},
      {"s":"HHS","f":0,"w":0.92},{"s":"HHS","f":0.01,"w":0.43},{"s":"HHS","f":0.03,"w":0.4},{"s":"HHS","f":0.035,"w":0.3},{"s":"HHS","f":0.05,"w":0.285},{"s":"HHS","f":0.07,"w":0.275},{"s":"HHS","f":0.09,"w":0.265},{"s":"HHS","f":0.11,"w":0.255},{"s":"HHS","f":0.12,"w":0.24},{"s":"HHS","f":0.14,"w":0.235},{"s":"HHS","f":0.16,"w":0.23},{"s":"HHS","f":0.18,"w":0.225},{"s":"HHS","f":0.2,"w":0.22},{"s":"HHS","f":0.21,"w":0.22},{"s":"HHS","f":0.225,"w":0.21},{"s":"HHS","f":0.246,"w":0.19},{"s":"HHS","f":0.26,"w":0.175},{"s":"HHS","f":0.28,"w":0.16},{"s":"HHS","f":0.295,"w":0.13},{"s":"HHS","f":0.31,"w":0.08},{"s":"HHS","f":0.32,"w":0.06},{"s":"HHS","f":0.34,"w":0.04},{"s":"HHS","f":0.36,"w":0.03},{"s":"HHS","f":0.39,"w":0.025},{"s":"HHS","f":0.42,"w":0.022},{"s":"HHS","f":0.45,"w":0.02},{"s":"HHS","f":0.5,"w":0.018},{"s":"HHS","f":0.55,"w":0.016},{"s":"HHS","f":0.6,"w":0.015},{"s":"HHS","f":0.7,"w":0.014},{"s":"HHS","f":0.8,"w":0.013},{"s":"HHS","f":0.9,"w":0.012},{"s":"HHS","f":1,"w":0.012},
      {"s":"HDS","f":0,"w":0.92},{"s":"HDS","f":0.005,"w":0.495},{"s":"HDS","f":0.015,"w":0.43},{"s":"HDS","f":0.028,"w":0.42},{"s":"HDS","f":0.033,"w":0.31},{"s":"HDS","f":0.054,"w":0.29},{"s":"HDS","f":0.067,"w":0.285},{"s":"HDS","f":0.08,"w":0.28},{"s":"HDS","f":0.097,"w":0.27},{"s":"HDS","f":0.114,"w":0.26},{"s":"HDS","f":0.125,"w":0.25},{"s":"HDS","f":0.13,"w":0.23},{"s":"HDS","f":0.147,"w":0.2},{"s":"HDS","f":0.165,"w":0.19},{"s":"HDS","f":0.18,"w":0.18},{"s":"HDS","f":0.2,"w":0.165},{"s":"HDS","f":0.213,"w":0.16},{"s":"HDS","f":0.23,"w":0.145},{"s":"HDS","f":0.246,"w":0.13},{"s":"HDS","f":0.26,"w":0.12},{"s":"HDS","f":0.28,"w":0.1},{"s":"HDS","f":0.295,"w":0.085},{"s":"HDS","f":0.31,"w":0.07},{"s":"HDS","f":0.32,"w":0.05},{"s":"HDS","f":0.335,"w":0.035},{"s":"HDS","f":0.35,"w":0.03},{"s":"HDS","f":0.37,"w":0.025},{"s":"HDS","f":0.39,"w":0.022},{"s":"HDS","f":0.42,"w":0.02},{"s":"HDS","f":0.45,"w":0.018},{"s":"HDS","f":0.5,"w":0.016},{"s":"HDS","f":0.55,"w":0.015},{"s":"HDS","f":0.6,"w":0.014},{"s":"HDS","f":0.7,"w":0.013},{"s":"HDS","f":0.8,"w":0.012},{"s":"HDS","f":0.9,"w":0.012},{"s":"HDS","f":1,"w":0.012},
      {"s":"RS","f":0,"w":0.92},{"s":"RS","f":0.02,"w":0.905},{"s":"RS","f":0.04,"w":0.89},{"s":"RS","f":0.06,"w":0.875},{"s":"RS","f":0.075,"w":0.865},{"s":"RS","f":0.08,"w":0.8},{"s":"RS","f":0.095,"w":0.785},{"s":"RS","f":0.11,"w":0.77},{"s":"RS","f":0.13,"w":0.75},{"s":"RS","f":0.15,"w":0.73},{"s":"RS","f":0.175,"w":0.71},{"s":"RS","f":0.2,"w":0.69},{"s":"RS","f":0.213,"w":0.68},{"s":"RS","f":0.215,"w":0.65},{"s":"RS","f":0.235,"w":0.635},{"s":"RS","f":0.255,"w":0.62},{"s":"RS","f":0.275,"w":0.6},{"s":"RS","f":0.3,"w":0.58},{"s":"RS","f":0.32,"w":0.565},{"s":"RS","f":0.345,"w":0.545},{"s":"RS","f":0.37,"w":0.525},{"s":"RS","f":0.39,"w":0.51},{"s":"RS","f":0.41,"w":0.49},{"s":"RS","f":0.43,"w":0.465},{"s":"RS","f":0.45,"w":0.44},{"s":"RS","f":0.47,"w":0.42},{"s":"RS","f":0.49,"w":0.395},{"s":"RS","f":0.504,"w":0.38},{"s":"RS","f":0.506,"w":0.33},{"s":"RS","f":0.525,"w":0.32},{"s":"RS","f":0.545,"w":0.31},{"s":"RS","f":0.55,"w":0.25},{"s":"RS","f":0.565,"w":0.24},{"s":"RS","f":0.583,"w":0.23},{"s":"RS","f":0.586,"w":0.08},{"s":"RS","f":0.6,"w":0.07},{"s":"RS","f":0.615,"w":0.06},{"s":"RS","f":0.63,"w":0.05},{"s":"RS","f":0.65,"w":0.045},{"s":"RS","f":0.67,"w":0.04},{"s":"RS","f":0.69,"w":0.04},{"s":"RS","f":0.71,"w":0.035},{"s":"RS","f":0.73,"w":0.035},{"s":"RS","f":0.75,"w":0.03},{"s":"RS","f":0.77,"w":0.03},{"s":"RS","f":0.79,"w":0.028},{"s":"RS","f":0.81,"w":0.026},{"s":"RS","f":0.83,"w":0.025},{"s":"RS","f":0.85,"w":0.023},{"s":"RS","f":0.87,"w":0.022},{"s":"RS","f":0.89,"w":0.02},{"s":"RS","f":0.91,"w":0.02},{"s":"RS","f":0.93,"w":0.018},{"s":"RS","f":0.95,"w":0.017},{"s":"RS","f":0.97,"w":0.016},{"s":"RS","f":1,"w":0.015},
      {"s":"HIS","f":0,"w":0.92},{"s":"HIS","f":0.02,"w":0.88},{"s":"HIS","f":0.041,"w":0.85},{"s":"HIS","f":0.048,"w":0.79},{"s":"HIS","f":0.067,"w":0.7},{"s":"HIS","f":0.087,"w":0.64},{"s":"HIS","f":0.107,"w":0.6},{"s":"HIS","f":0.12,"w":0.575},{"s":"HIS","f":0.134,"w":0.55},{"s":"HIS","f":0.147,"w":0.51},{"s":"HIS","f":0.16,"w":0.47},{"s":"HIS","f":0.175,"w":0.44},{"s":"HIS","f":0.186,"w":0.36},{"s":"HIS","f":0.19,"w":0.3},{"s":"HIS","f":0.193,"w":0.24},{"s":"HIS","f":0.21,"w":0.24},{"s":"HIS","f":0.23,"w":0.235},{"s":"HIS","f":0.25,"w":0.23},{"s":"HIS","f":0.27,"w":0.23},{"s":"HIS","f":0.29,"w":0.22},{"s":"HIS","f":0.31,"w":0.21},{"s":"HIS","f":0.33,"w":0.2},{"s":"HIS","f":0.355,"w":0.185},{"s":"HIS","f":0.378,"w":0.17},{"s":"HIS","f":0.4,"w":0.16},{"s":"HIS","f":0.42,"w":0.145},{"s":"HIS","f":0.444,"w":0.13},{"s":"HIS","f":0.465,"w":0.115},{"s":"HIS","f":0.49,"w":0.1},{"s":"HIS","f":0.51,"w":0.09},{"s":"HIS","f":0.53,"w":0.085},{"s":"HIS","f":0.544,"w":0.08},{"s":"HIS","f":0.56,"w":0.07},{"s":"HIS","f":0.58,"w":0.05},{"s":"HIS","f":0.6,"w":0.03},{"s":"HIS","f":0.62,"w":0.022},{"s":"HIS","f":0.65,"w":0.018},{"s":"HIS","f":0.7,"w":0.016},{"s":"HIS","f":0.8,"w":0.014},{"s":"HIS","f":0.9,"w":0.013},{"s":"HIS","f":1,"w":0.012},
      {"s":"HAS","f":0,"w":0.92},{"s":"HAS","f":0.02,"w":0.9},{"s":"HAS","f":0.04,"w":0.88},{"s":"HAS","f":0.06,"w":0.86},{"s":"HAS","f":0.08,"w":0.835},{"s":"HAS","f":0.1,"w":0.81},{"s":"HAS","f":0.12,"w":0.78},{"s":"HAS","f":0.122,"w":0.53},{"s":"HAS","f":0.135,"w":0.515},{"s":"HAS","f":0.15,"w":0.5},{"s":"HAS","f":0.165,"w":0.485},{"s":"HAS","f":0.18,"w":0.47},{"s":"HAS","f":0.195,"w":0.45},{"s":"HAS","f":0.206,"w":0.44},{"s":"HAS","f":0.21,"w":0.4},{"s":"HAS","f":0.225,"w":0.4},{"s":"HAS","f":0.236,"w":0.4},{"s":"HAS","f":0.246,"w":0.4},{"s":"HAS","f":0.25,"w":0.27},{"s":"HAS","f":0.256,"w":0.255},{"s":"HAS","f":0.27,"w":0.255},{"s":"HAS","f":0.29,"w":0.255},{"s":"HAS","f":0.31,"w":0.255},{"s":"HAS","f":0.33,"w":0.255},{"s":"HAS","f":0.35,"w":0.255},{"s":"HAS","f":0.37,"w":0.255},{"s":"HAS","f":0.39,"w":0.255},{"s":"HAS","f":0.41,"w":0.255},{"s":"HAS","f":0.43,"w":0.255},{"s":"HAS","f":0.45,"w":0.255},{"s":"HAS","f":0.455,"w":0.21},{"s":"HAS","f":0.47,"w":0.21},{"s":"HAS","f":0.485,"w":0.21},{"s":"HAS","f":0.504,"w":0.21},{"s":"HAS","f":0.52,"w":0.195},{"s":"HAS","f":0.537,"w":0.185},{"s":"HAS","f":0.54,"w":0.11},{"s":"HAS","f":0.555,"w":0.08},{"s":"HAS","f":0.57,"w":0.06},{"s":"HAS","f":0.585,"w":0.045},{"s":"HAS","f":0.6,"w":0.03},{"s":"HAS","f":0.62,"w":0.022},{"s":"HAS","f":0.65,"w":0.018},{"s":"HAS","f":0.68,"w":0.016},{"s":"HAS","f":0.71,"w":0.015},{"s":"HAS","f":0.74,"w":0.015},{"s":"HAS","f":0.77,"w":0.014},{"s":"HAS","f":0.8,"w":0.014},{"s":"HAS","f":0.83,"w":0.013},{"s":"HAS","f":0.86,"w":0.013},{"s":"HAS","f":0.89,"w":0.013},{"s":"HAS","f":0.92,"w":0.012},{"s":"HAS","f":0.95,"w":0.012},{"s":"HAS","f":0.98,"w":0.012},{"s":"HAS","f":1,"w":0.012}
    ]
  },
  "vconcat": [
    {
      "hconcat": [
        {
          "width": 665,
          "height": 404,
          "data": {"name": "a"},
          "title": {"text": "(a) FCNT"},
          "encoding": {
            "x": {"field": "f", "type": "quantitative", "scale": {"domain": [-0.105, 1.105], "nice": false, "zero": false}, "axis": {"values": [0, 0.2, 0.4, 0.6, 0.8, 1], "format": ".1f", "title": "f"}},
            "y": {"field": "w", "type": "quantitative", "scale": {"domain": [-0.125, 1.095], "nice": false, "zero": false}, "axis": {"values": [0, 0.2, 0.4, 0.6, 0.8, 1], "format": ".1f", "title": "W"}},
            "color": {"field": "s", "type": "nominal", "scale": {"domain": ["HPS", "HODS", "HIDS", "HHS", "HDS", "RS", "HIS", "HAS"], "range": ["#161616", "#e8322a", "#3c4b9c", "#2e7f76", "#b05aa8", "#7d7a32", "#392c58", "#702828"]}, "legend": {"title": null}}
          },
          "layer": [
            {"mark": {"type": "line", "strokeWidth": 1.5}, "encoding": {}},
            {"transform": [{"filter": "datum.s === 'HPS'"}], "mark": {"type": "point", "shape": "square", "filled": true, "size": 300, "opacity": 1}},
            {"transform": [{"filter": "datum.s === 'HODS'"}], "mark": {"type": "point", "shape": "circle", "filled": true, "size": 300, "opacity": 1}},
            {"transform": [{"filter": "datum.s === 'HIDS'"}], "mark": {"type": "point", "shape": "triangle-up", "filled": true, "size": 300, "opacity": 1}},
            {"transform": [{"filter": "datum.s === 'HHS'"}], "mark": {"type": "point", "shape": "triangle-down", "filled": true, "size": 300, "opacity": 1}},
            {"transform": [{"filter": "datum.s === 'HDS'"}], "mark": {"type": "point", "shape": "triangle-left", "filled": true, "size": 300, "opacity": 1}},
            {"transform": [{"filter": "datum.s === 'RS'"}], "mark": {"type": "point", "shape": "triangle-right", "filled": true, "size": 300, "opacity": 1}},
            {"transform": [{"filter": "datum.s === 'HIS'"}], "mark": {"type": "point", "shape": "diamond", "filled": true, "size": 300, "opacity": 1}},
            {"transform": [{"filter": "datum.s === 'HAS'"}], "mark": {"type": "point", "shape": "M0,-1L0.95,-0.31L0.59,0.81L-0.59,0.81L-0.95,-0.31Z", "filled": true, "size": 300, "opacity": 1}},
            {
              "transform": [{"filter": "false"}],
              "mark": {"type": "point", "filled": true, "size": 300, "opacity": 1},
              "encoding": {
                "shape": {
                  "field": "s", "type": "nominal",
                  "scale": {
                    "domain": ["HPS", "HODS", "HIDS", "HHS", "HDS", "RS", "HIS", "HAS"],
                    "range": [
                      "M-1,-.045H-.2V.045H-1ZM.2,-.045H1V.045H.2ZM-.22,-.36H.22V.36H-.22Z",
                      "M-1,-.045H-.24V.045H-1ZM.24,-.045H1V.045H.24ZM.26,0A.26,.36 0 1,1 -.26,0A.26,.36 0 1,1 .26,0Z",
                      "M-1,-.045H-.2V.045H-1ZM.2,-.045H1V.045H.2ZM0,-.42L.3,.32H-.3Z",
                      "M-1,-.045H-.2V.045H-1ZM.2,-.045H1V.045H.2ZM-.3,-.3H.3L0,.44Z",
                      "M-1,-.045H-.2V.045H-1ZM.2,-.045H1V.045H.2ZM-.3,0L.22,-.42V.42Z",
                      "M-1,-.045H-.2V.045H-1ZM.2,-.045H1V.045H.2ZM.3,0L-.22,-.42V.42Z",
                      "M-1,-.045H-.2V.045H-1ZM.2,-.045H1V.045H.2ZM0,-.45L.26,0L0,.45L-.26,0Z",
                      "M-1,-.045H-.2V.045H-1ZM.2,-.045H1V.045H.2ZM0,-.4L.34,-.12L.22,.34H-.22L-.34,-.12Z"
                    ]
                  },
                  "legend": {"title": null}
                }
              }
            }
          ]
        },
        {
          "width": 665,
          "height": 404,
          "data": {"name": "b"},
          "title": {"text": "(b) WCNT"},
          "encoding": {
            "x": {"field": "f", "type": "quantitative", "scale": {"domain": [-0.105, 1.105], "nice": false, "zero": false}, "axis": {"values": [0, 0.2, 0.4, 0.6, 0.8, 1], "format": ".1f", "title": "f"}},
            "y": {"field": "w", "type": "quantitative", "scale": {"domain": [-0.125, 1.095], "nice": false, "zero": false}, "axis": {"values": [0, 0.2, 0.4, 0.6, 0.8, 1], "format": ".1f", "title": "W"}},
            "color": {"field": "s", "type": "nominal", "scale": {"domain": ["HPS", "HODS", "HIDS", "HHS", "HDS", "RS", "HIS", "HAS"], "range": ["#161616", "#e8322a", "#3c4b9c", "#2e7f76", "#b05aa8", "#7d7a32", "#392c58", "#702828"]}, "legend": {"title": null}}
          },
          "layer": [
            {"mark": {"type": "line", "strokeWidth": 1.5}, "encoding": {}},
            {"transform": [{"filter": "datum.s === 'HPS'"}], "mark": {"type": "point", "shape": "square", "filled": true, "size": 300, "opacity": 1}},
            {"transform": [{"filter": "datum.s === 'HODS'"}], "mark": {"type": "point", "shape": "circle", "filled": true, "size": 300, "opacity": 1}},
            {"transform": [{"filter": "datum.s === 'HIDS'"}], "mark": {"type": "point", "shape": "triangle-up", "filled": true, "size": 300, "opacity": 1}},
            {"transform": [{"filter": "datum.s === 'HHS'"}], "mark": {"type": "point", "shape": "triangle-down", "filled": true, "size": 300, "opacity": 1}},
            {"transform": [{"filter": "datum.s === 'HDS'"}], "mark": {"type": "point", "shape": "triangle-left", "filled": true, "size": 300, "opacity": 1}},
            {"transform": [{"filter": "datum.s === 'RS'"}], "mark": {"type": "point", "shape": "triangle-right", "filled": true, "size": 300, "opacity": 1}},
            {"transform": [{"filter": "datum.s === 'HIS'"}], "mark": {"type": "point", "shape": "diamond", "filled": true, "size": 300, "opacity": 1}},
            {"transform": [{"filter": "datum.s === 'HAS'"}], "mark": {"type": "point", "shape": "M0,-1L0.95,-0.31L0.59,0.81L-0.59,0.81L-0.95,-0.31Z", "filled": true, "size": 300, "opacity": 1}}
          ]
        }
      ],
      "spacing": 158
    },
    {
      "width": 665,
      "height": 404,
      "data": {"name": "c"},
      "title": {"text": "(c) SCNT"},
      "encoding": {
        "x": {"field": "f", "type": "quantitative", "scale": {"domain": [-0.105, 1.105], "nice": false, "zero": false}, "axis": {"values": [0, 0.2, 0.4, 0.6, 0.8, 1], "format": ".1f", "title": "f"}},
        "y": {"field": "w", "type": "quantitative", "scale": {"domain": [-0.125, 1.095], "nice": false, "zero": false}, "axis": {"values": [0, 0.2, 0.4, 0.6, 0.8, 1], "format": ".1f", "title": "W"}},
        "color": {"field": "s", "type": "nominal", "scale": {"domain": ["HPS", "HODS", "HIDS", "HHS", "HDS", "RS", "HIS", "HAS"], "range": ["#161616", "#e8322a", "#3c4b9c", "#2e7f76", "#b05aa8", "#7d7a32", "#392c58", "#702828"]}, "legend": {"title": null}}
      },
      "layer": [
        {"mark": {"type": "line", "strokeWidth": 1.5}, "encoding": {}},
        {"transform": [{"filter": "datum.s === 'HPS'"}], "mark": {"type": "point", "shape": "square", "filled": true, "size": 300, "opacity": 1}},
        {"transform": [{"filter": "datum.s === 'HODS'"}], "mark": {"type": "point", "shape": "circle", "filled": true, "size": 300, "opacity": 1}},
        {"transform": [{"filter": "datum.s === 'HIDS'"}], "mark": {"type": "point", "shape": "triangle-up", "filled": true, "size": 300, "opacity": 1}},
        {"transform": [{"filter": "datum.s === 'HHS'"}], "mark": {"type": "point", "shape": "triangle-down", "filled": true, "size": 300, "opacity": 1}},
        {"transform": [{"filter": "datum.s === 'HDS'"}], "mark": {"type": "point", "shape": "triangle-left", "filled": true, "size": 300, "opacity": 1}},
        {"transform": [{"filter": "datum.s === 'RS'"}], "mark": {"type": "point", "shape": "triangle-right", "filled": true, "size": 300, "opacity": 1}},
        {"transform": [{"filter": "datum.s === 'HIS'"}], "mark": {"type": "point", "shape": "diamond", "filled": true, "size": 300, "opacity": 1}},
        {"transform": [{"filter": "datum.s === 'HAS'"}], "mark": {"type": "point", "shape": "M0,-1L0.95,-0.31L0.59,0.81L-0.59,0.81L-0.95,-0.31Z", "filled": true, "size": 300, "opacity": 1}}
      ]
    }
  ],
  "spacing": 51,
  "center": true
}
